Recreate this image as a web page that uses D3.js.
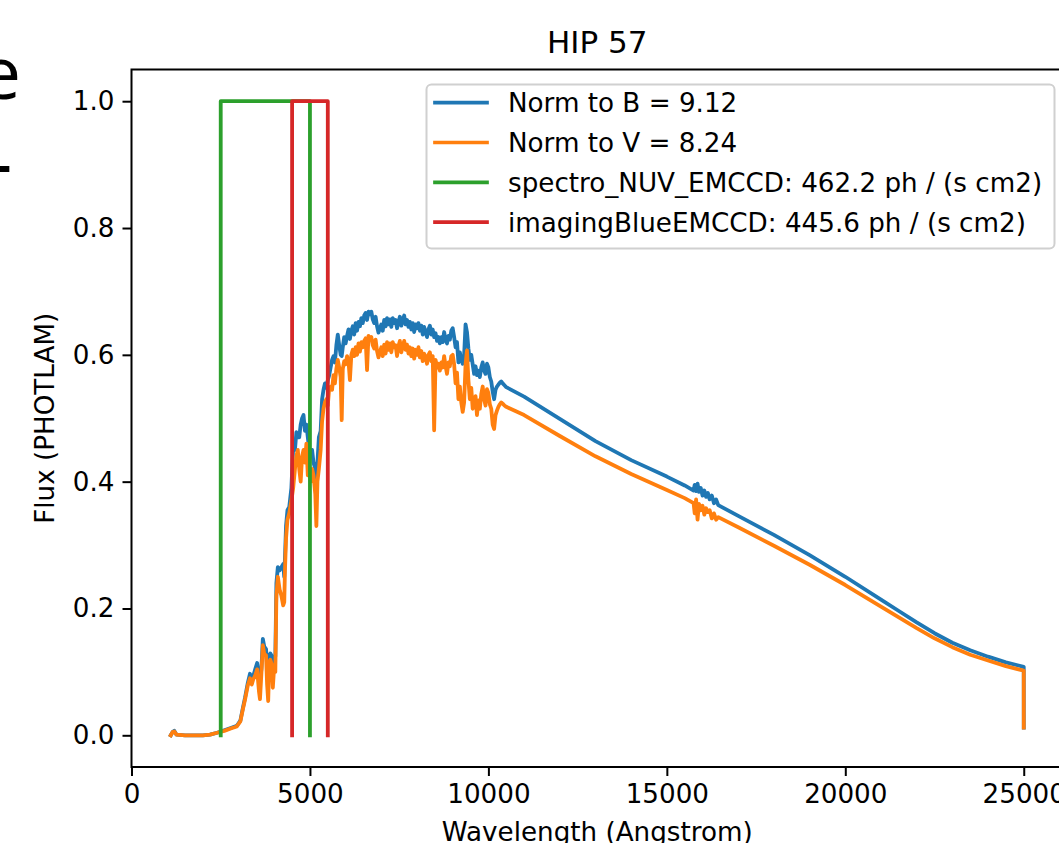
<!DOCTYPE html>
<html><head><meta charset="utf-8">
<script src="https://cdn.jsdelivr.net/npm/d3@7"></script>
<style>
html,body{margin:0;padding:0;background:#fff;overflow:hidden;}
text{font-family:"DejaVu Sans",sans-serif;fill:#000;}
</style></head>
<body>
<svg id="chart" width="1059" height="843"></svg>
<script>
// ---------------- data ----------------
const chartTitle = "HIP 57";
const xLabel = "Wavelength (Angstrom)";
const yLabel = "Flux (PHOTLAM)";
const xTicks = [0, 5000, 10000, 15000, 20000, 25000];
const yTicks = [0.0, 0.2, 0.4, 0.6, 0.8, 1.0];

const wavelength = [
 1100,1150,1200,1260,1500,2000,2200,2400,2600,2800,
 2950,3050,3120,3180,3260,3320,3370,3410,3470,3520,
 3570,3600,3640,3680,3720,3770,3800,3830,3860,3890,
 3930,3960,4000,4030,
 4060,4100,4150,4200,4250,4280,4300,4330,4370,4420,
 4480,4530,4580,4620,4660,4700,4740,4780,4820,4860,
 4900,4940,4980,5020,5060,5100,5150,5180,5210,5250,
 5300,5340,5380,5420,5460,5500,5540,5580,5620,5660,
 5700,5740,5780,5820,5860,5890,5920,5960,6000,6040,
 6080,6120,6160,6200,6240,6280,6320,6360,6400,6440,
 6480,6520,6560,6600,6640,6680,6720,6760,6800,6840,
 6880,6920,6960,7000,7040,7080,7120,7160,7200,7240,
 7280,7320,7360,7400,7440,7480,7520,7560,7600,7640,
 7680,7720,7760,7800,7840,7880,7920,7960,8000,8040,
 8080,8120,8160,8200,8240,8280,8320,8360,8400,8440,
 8480,8520,8560,8600,8640,8680,8720,8760,8800,8840,
 8880,8920,8960,9000,9040,9080,9120,9160,9200,9240,
 9280,9320,9360,9400,9440,9480,9520,9560,9600,9640,
 9680,9720,9760,9800,9840,9880,9920,9960,10000,10040,
 10080,10120,10160,10200,10240,10280,10320,10360,10400,10450,10500,
 11000,12000,13000,14000,15000,15500,15750,
 15780,15820,15860,15900,15950,16000,16050,16100,16150,16200,16260,16320,16380,16440,
 17000,18000,19000,20000,21000,21500,22000,22500,23000,23500,24000,24500,25000,25001
];
const fluxNormB = [
 0.000,0.005,0.007,0.001,0.000,0.000,0.001,0.004,0.008,0.012,
 0.015,0.023,0.043,0.059,0.083,0.097,0.088,0.093,0.105,0.114,
 0.095,0.085,0.105,0.152,0.140,0.136,0.110,0.090,0.125,0.129,
 0.125,0.090,0.120,0.125,
 0.240,0.265,0.260,0.265,0.270,0.250,0.280,0.330,0.355,0.360,
 0.390,0.454,0.450,0.478,0.470,0.470,0.490,0.500,0.505,0.480,
 0.490,0.470,0.450,0.440,0.450,0.430,0.420,0.400,0.430,0.470,
 0.480,0.530,0.545,0.555,0.548,0.560,0.568,0.580,0.592,0.598,
 0.588,0.615,0.632,0.615,0.600,0.598,0.612,0.628,0.618,0.630,
 0.640,0.625,0.638,0.645,0.632,0.650,0.638,0.652,0.645,0.658,
 0.650,0.662,0.666,0.655,0.668,0.664,0.668,0.656,0.650,0.660,
 0.645,0.635,0.642,0.648,0.638,0.655,0.645,0.658,0.648,0.656,
 0.644,0.658,0.650,0.655,0.642,0.652,0.660,0.646,0.655,0.662,
 0.648,0.655,0.644,0.652,0.640,0.650,0.636,0.648,0.642,0.650,
 0.638,0.646,0.632,0.644,0.636,0.628,0.640,0.646,0.632,0.640,
 0.628,0.634,0.622,0.628,0.618,0.628,0.620,0.636,0.624,0.618,
 0.630,0.624,0.638,0.642,0.628,0.612,0.620,0.588,0.604,0.592,
 0.586,0.600,0.648,0.636,0.610,0.592,0.600,0.585,0.570,0.582,
 0.568,0.575,0.565,0.580,0.588,0.575,0.570,0.586,0.580,0.565,
 0.558,0.542,0.530,0.545,0.550,0.553,0.556,0.558,0.555,0.552,0.549,
 0.534,0.499,0.464,0.434,0.408,0.394,0.386,
 0.395,0.385,0.397,0.384,0.390,0.378,0.386,0.376,0.382,0.372,0.378,0.366,0.372,0.363,
 0.346,0.316,0.284,0.250,0.214,0.196,0.178,0.161,0.146,0.134,0.124,0.115,0.108,0.012
];
const fluxNormV = [
 0.000,0.005,0.006,0.001,0.000,0.000,0.001,0.004,0.007,0.011,
 0.014,0.022,0.041,0.056,0.079,0.090,0.080,0.088,0.095,0.104,
 0.070,0.057,0.098,0.142,0.128,0.126,0.080,0.054,0.115,0.119,
 0.112,0.075,0.110,0.100,
 0.220,0.250,0.230,0.220,0.205,0.210,0.260,0.310,0.340,0.350,
 0.370,0.390,0.420,0.440,0.450,0.420,0.400,0.440,0.450,0.430,
 0.460,0.410,0.420,0.400,0.420,0.410,0.380,0.330,0.400,0.420,
 0.450,0.495,0.515,0.525,0.530,0.520,0.548,0.550,0.545,0.568,
 0.555,0.578,0.592,0.580,0.565,0.497,0.578,0.590,0.585,0.598,
 0.590,0.560,0.600,0.608,0.598,0.612,0.600,0.618,0.605,0.620,
 0.612,0.622,0.626,0.576,0.630,0.625,0.628,0.615,0.610,0.624,
 0.606,0.596,0.604,0.612,0.598,0.616,0.602,0.620,0.608,0.618,
 0.604,0.620,0.612,0.615,0.598,0.614,0.622,0.604,0.614,0.622,
 0.608,0.616,0.602,0.612,0.598,0.610,0.594,0.608,0.600,0.612,
 0.596,0.606,0.590,0.602,0.596,0.586,0.600,0.604,0.590,0.598,
 0.481,0.592,0.580,0.586,0.575,0.588,0.580,0.598,0.582,0.570,
 0.588,0.582,0.598,0.600,0.585,0.555,0.572,0.530,0.550,0.525,
 0.510,0.525,0.585,0.607,0.560,0.530,0.548,0.515,0.520,0.535,
 0.505,0.528,0.515,0.538,0.550,0.530,0.520,0.546,0.540,0.522,
 0.515,0.490,0.483,0.505,0.512,0.518,0.522,0.525,0.523,0.520,0.518,
 0.505,0.472,0.440,0.412,0.387,0.374,0.366,
 0.350,0.372,0.340,0.365,0.355,0.362,0.348,0.358,0.352,0.355,0.342,0.350,0.340,0.344,
 0.328,0.299,0.269,0.237,0.203,0.186,0.169,0.153,0.139,0.127,0.118,0.109,0.102,0.012
];
const filterNUVWave = [2500, 2500, 5000, 5000];
const filterNUVThru = [0, 1, 1, 0];
const filterBlueWave = [4500, 4500, 5500, 5500];
const filterBlueThru = [0, 1, 1, 0];

const legendLabels = [
 "Norm to B = 9.12",
 "Norm to V = 8.24",
 "spectro_NUV_EMCCD: 462.2 ph / (s cm2)",
 "imagingBlueEMCCD: 445.6 ph / (s cm2)"
];
const seriesColors = ["#1f77b4", "#ff7f0e", "#2ca02c", "#d62728"];

// ---------------- layout ----------------
const svg = d3.select("#chart");
const L = 131.5, R = 1063, T = 69.5, B = 767;
const x = d3.scaleLinear().domain([0, 26100]).range([L, R]);
const y = d3.scaleLinear().domain([-0.05, 1.05]).range([B, T]);

// stray text at the left edge (cut off from the surrounding page)
svg.append("text").attr("x", 21).attr("y", 99).attr("text-anchor", "end")
  .style("font-family", "'Open Sans',sans-serif").style("font-size", "74px").text("e");
svg.append("text").attr("x", 13).attr("y", 190).attr("text-anchor", "end")
  .style("font-size", "74px").text("-");

svg.append("clipPath").attr("id", "clip").append("rect")
  .attr("x", L).attr("y", T).attr("width", R - L).attr("height", B - T);

const plot = svg.append("g").attr("clip-path", "url(#clip)");
const line = d3.line().x(d => x(d[0])).y(d => y(d[1]));

const series = [
  d3.zip(wavelength, fluxNormB),
  d3.zip(wavelength, fluxNormV),
  d3.zip(filterNUVWave, filterNUVThru),
  d3.zip(filterBlueWave, filterBlueThru)
];
series.forEach((s, i) => {
  plot.append("path").datum(s).attr("d", line)
    .attr("fill", "none").attr("stroke", seriesColors[i])
    .attr("stroke-width", 3.8).attr("stroke-linejoin", "round").attr("stroke-linecap", "square");
});

// axes
const xAxis = d3.axisBottom(x).tickValues(xTicks).tickFormat(d3.format("d"))
  .tickSize(9).tickPadding(8);
const yAxis = d3.axisLeft(y).tickValues(yTicks).tickFormat(d3.format(".1f"))
  .tickSize(9).tickPadding(8);
const gx = svg.append("g").attr("transform", `translate(0,${B})`).call(xAxis);
const gy = svg.append("g").attr("transform", `translate(${L},0)`).call(yAxis);
[gx, gy].forEach(g => {
  g.select(".domain").remove();
  g.selectAll(".tick line").attr("stroke", "#000").attr("stroke-width", 2);
  g.selectAll(".tick text").style("font-size", "26.2px").attr("fill", "#000");
});

// frame
svg.append("rect").attr("x", L).attr("y", T).attr("width", R - L).attr("height", B - T)
  .attr("fill", "none").attr("stroke", "#000").attr("stroke-width", 2);

// labels
svg.append("text").attr("x", (L + R) / 2).attr("y", 53).attr("text-anchor", "middle")
  .style("font-size", "31px").text(chartTitle);
svg.append("text").attr("x", (L + R) / 2).attr("y", 841).attr("text-anchor", "middle")
  .style("font-size", "26.2px").text(xLabel);
svg.append("text").attr("transform", `translate(54,${(T + B) / 2}) rotate(-90)`)
  .attr("text-anchor", "middle").style("font-size", "26.2px").text(yLabel);

// legend
const lg = svg.append("g");
lg.append("rect").attr("x", 426.5).attr("y", 84.5).attr("width", 628).attr("height", 164)
  .attr("rx", 5).attr("fill", "#fff").attr("fill-opacity", 0.8)
  .attr("stroke", "#d0d0d0").attr("stroke-width", 2);
legendLabels.forEach((lab, i) => {
  const yy = 102.7 + i * 39.8;
  lg.append("line").attr("x1", 435).attr("x2", 487).attr("y1", yy).attr("y2", yy)
    .attr("stroke", seriesColors[i]).attr("stroke-width", 3.7).attr("stroke-linecap", "square");
  lg.append("text").attr("x", 508).attr("y", yy).attr("dy", "0.36em")
    .style("font-size", "26.2px").text(lab);
});
</script>
</body></html>
